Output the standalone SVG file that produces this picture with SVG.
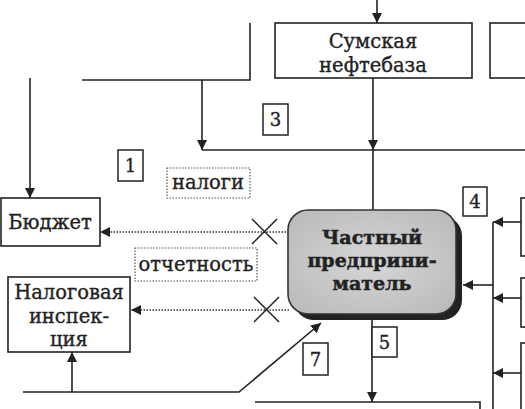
<svg xmlns="http://www.w3.org/2000/svg" width="525" height="409" viewBox="0 0 525 409">
<style>
.box{fill:#fff;stroke:#222;stroke-width:1.6}
.nb{fill:#fff;stroke:#222;stroke-width:1.5}
.db{fill:#fff;stroke:#555;stroke-width:1.2;stroke-dasharray:1.5 1.5}
.ln{fill:none;stroke:#222;stroke-width:1.6}
.dl{fill:none;stroke:#333;stroke-width:1.4;stroke-dasharray:1.5 1.5}
.x{fill:none;stroke:#222;stroke-width:1.5}
text{font-family:"DejaVu Serif","Liberation Serif",serif;fill:#222;text-anchor:middle;stroke:#222;stroke-width:0.35}
.t{font-size:19.5px}
.n{font-size:18px}
.b{font-size:19px;font-weight:bold;stroke-width:0.5}
</style>
<defs>
<marker id="ah" viewBox="0 0 10 10" refX="10" refY="5" markerWidth="10" markerHeight="10" markerUnits="userSpaceOnUse" orient="auto">
<path d="M0,0 L10,5 L0,10 Z" fill="#222"/>
</marker>
<radialGradient id="g" cx="0.5" cy="0.5" r="0.7">
<stop offset="0" stop-color="#d6d6d6"/>
<stop offset="1" stop-color="#b8b8b8"/>
</radialGradient>
</defs>
<rect width="525" height="409" fill="#fff"/>

<g id="connectors">
<line class="ln" x1="377" y1="0" x2="377" y2="23" marker-end="url(#ah)"/>
<polyline class="ln" points="250,23 250,80 82,80"/>
<line class="ln" x1="202" y1="80" x2="202" y2="150" marker-end="url(#ah)"/>
<line class="ln" x1="30" y1="78" x2="30" y2="198" marker-end="url(#ah)"/>
<line class="ln" x1="373" y1="78" x2="373" y2="150" marker-end="url(#ah)"/>
<line class="ln" x1="202" y1="150" x2="525" y2="150"/>
<line class="ln" x1="373" y1="150" x2="373" y2="210"/>
<line class="dl" x1="289" y1="232" x2="100" y2="232" marker-end="url(#ah)"/>
<line class="dl" x1="289" y1="310" x2="131" y2="310" marker-end="url(#ah)"/>
<path class="x" d="M252,219 L277,244 M277,219 L252,244"/>
<path class="x" d="M254,297 L279,322 M279,297 L254,322"/>
<line class="ln" x1="372" y1="318" x2="372" y2="402" marker-end="url(#ah)"/>
<polyline class="ln" points="23,392 239,392 321,323" marker-end="url(#ah)"/>
<line class="ln" x1="72" y1="392" x2="72" y2="352" marker-end="url(#ah)"/>
<line class="ln" x1="493" y1="222" x2="493" y2="409"/>
<line class="ln" x1="521" y1="222" x2="493" y2="222" marker-end="url(#ah)"/>
<line class="ln" x1="521" y1="298" x2="493" y2="298" marker-end="url(#ah)"/>
<line class="ln" x1="521" y1="373" x2="493" y2="373" marker-end="url(#ah)"/>
<line class="ln" x1="493" y1="285" x2="463" y2="285" marker-end="url(#ah)"/>
</g>

<g id="sumy">
<rect class="box" x="275" y="23" width="197" height="55"/>
<text class="t" x="373" y="48">Сумская</text>
<text class="t" x="373" y="72">нефтебаза</text>
</g>
<g id="top-right-box">
<rect class="box" x="490" y="23" width="40" height="55"/>
</g>
<g id="budget">
<rect class="box" x="1" y="198" width="99" height="48"/>
<text class="t" x="50" y="229">Бюджет</text>
</g>
<g id="tax">
<rect class="box" x="8" y="277" width="122" height="75"/>
<text class="t" x="69" y="299">Налоговая</text>
<text class="t" x="69" y="323">инспек-</text>
<text class="t" x="69" y="346">ция</text>
</g>
<g id="entrepreneur">
<rect x="294" y="216" width="168" height="104" rx="20" fill="#222"/>
<rect x="288" y="210" width="168" height="104" rx="20" fill="url(#g)" stroke="#333" stroke-width="1.6"/>
<text class="b" x="372" y="244">Частный</text>
<text class="b" x="372" y="267">предприни-</text>
<text class="b" x="372" y="290">матель</text>
</g>
<g id="bottom-box">
<polyline class="ln" points="255,402 480,402 480,409"/>
</g>
<g id="right-box-a"><rect class="box" x="521" y="198" width="10" height="58"/></g>
<g id="right-box-b"><rect class="box" x="521" y="278" width="10" height="49"/></g>
<g id="right-box-c"><rect class="box" x="521" y="343" width="10" height="70"/></g>
<g id="label-taxes">
<rect class="db" x="167" y="168" width="83" height="30"/>
<text class="t" x="208" y="189">налоги</text>
</g>
<g id="label-report">
<rect class="db" x="135" y="248" width="122" height="33"/>
<text class="t" x="196" y="271">отчетность</text>
</g>
<g id="n1"><rect class="nb" x="118" y="150" width="25" height="31"/><text class="n" x="130.5" y="172">1</text></g>
<g id="n3"><rect class="nb" x="263" y="104" width="25" height="31"/><text class="n" x="275.5" y="126">3</text></g>
<g id="n4"><rect class="nb" x="463" y="187" width="24" height="29"/><text class="n" x="475" y="208">4</text></g>
<g id="n5"><rect class="nb" x="372" y="327" width="25" height="30"/><text class="n" x="384.5" y="349">5</text></g>
<g id="n7"><rect class="nb" x="303" y="343" width="25" height="32"/><text class="n" x="315.5" y="366">7</text></g>
</svg>
